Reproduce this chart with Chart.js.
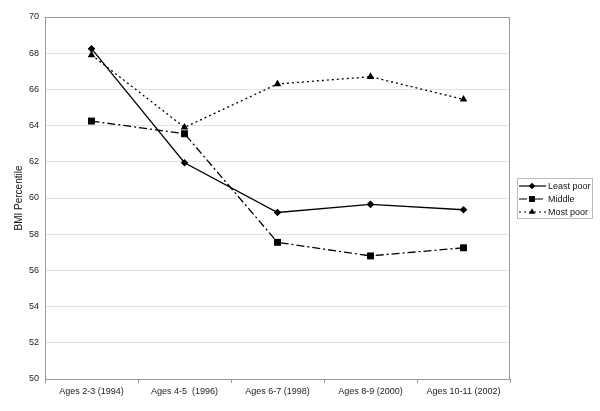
<!DOCTYPE html>
<html><head><meta charset="utf-8">
<script src="https://cdn.jsdelivr.net/npm/chart.js@4/dist/chart.umd.min.js"></script>
<style>html,body{margin:0;padding:0;background:#fff}#wrap{width:600px;height:411px}</style>
</head><body><div id="wrap"><canvas id="c" width="600" height="411"></canvas></div>
<script>
const categories = ['Ages 2-3 (1994)', 'Ages 4-5  (1996)', 'Ages 6-7 (1998)', 'Ages 8-9 (2000)', 'Ages 10-11 (2002)'];
const leastPoor = [68.25, 61.95, 59.2, 59.65, 59.35];
const middle = [64.25, 63.55, 57.55, 56.8, 57.25];
const mostPoor = [67.9, 63.9, 66.3, 66.7, 65.45];
const seriesNames = ['Least poor', 'Middle', 'Most poor'];
const yMin = 50, yMax = 70, yStep = 2;
const yTitle = 'BMI Percentile';

const FONT = 'Liberation Sans, Arial, sans-serif';
const styles = [
  {dash: [], point: 'rectRot', r: 3.8},
  {dash: [8, 3, 2, 3], point: 'rect', r: 4.9},
  {dash: [2, 3], point: 'triangle', r: 4.4}
];
const seriesData = [leastPoor, middle, mostPoor];

function drawMarker(ctx, style, x, y, r) {
  ctx.beginPath();
  if (style === 'rectRot') {
    ctx.moveTo(x, y - r); ctx.lineTo(x + r, y); ctx.lineTo(x, y + r); ctx.lineTo(x - r, y);
  } else if (style === 'rect') {
    const s = r * Math.SQRT1_2;
    ctx.rect(x - s, y - s, 2 * s, 2 * s);
  } else {
    ctx.moveTo(x, y - r); ctx.lineTo(x + r * 0.866, y + r * 0.5); ctx.lineTo(x - r * 0.866, y + r * 0.5);
  }
  ctx.closePath();
  ctx.fill();
}

const frameAndLegend = {
  id: 'frameAndLegend',
  afterDraw(chart) {
    const ctx = chart.ctx, a = chart.chartArea;
    ctx.save();
    ctx.strokeStyle = '#999'; ctx.lineWidth = 1;
    ctx.beginPath();
    ctx.moveTo(a.left, a.top + 0.5); ctx.lineTo(a.right - 0.5, a.top + 0.5); ctx.lineTo(a.right - 0.5, a.bottom);
    ctx.stroke();
    // legend
    const bx = 517.5, by = 178.5, bw = 75, bh = 40;
    ctx.strokeStyle = '#bbb';
    ctx.strokeRect(bx, by, bw, bh);
    ctx.font = '9px ' + FONT;
    ctx.textBaseline = 'middle';
    ctx.textAlign = 'left';
    seriesNames.forEach((n, i) => {
      const y = 186 + i * 13;
      ctx.strokeStyle = '#000'; ctx.fillStyle = '#000'; ctx.lineWidth = 1.2;
      ctx.setLineDash(styles[i].dash);
      ctx.beginPath(); ctx.moveTo(519, y); ctx.lineTo(546, y); ctx.stroke();
      ctx.setLineDash([]);
      drawMarker(ctx, styles[i].point, 532, y, styles[i].r * 0.85);
      ctx.fillStyle = '#111';
      ctx.fillText(n, 548, y + 0.5);
    });
    ctx.restore();
  }
};

new Chart(document.getElementById('c'), {
  type: 'line',
  data: {
    labels: categories,
    datasets: seriesData.map((d, i) => ({
      label: seriesNames[i],
      data: d,
      borderColor: '#000',
      backgroundColor: '#000',
      borderWidth: 1.3,
      borderDash: styles[i].dash,
      pointStyle: styles[i].point,
      pointRadius: styles[i].r,
      pointBorderWidth: 0,
      pointBackgroundColor: '#000',
      tension: 0,
      fill: false
    }))
  },
  options: {
    responsive: false,
    animation: false,
    devicePixelRatio: 1,
    layout: {padding: {top: 17, right: 90, left: 0, bottom: 0}},
    plugins: {legend: {display: false}, tooltip: {enabled: false}},
    scales: {
      x: {
        offset: true,
        afterFit: s => { s.height = 32; },
        grid: {offset: true, drawOnChartArea: false, drawTicks: true, tickLength: 4, color: '#999'},
        border: {color: '#999', width: 1},
        ticks: {color: '#222', font: {family: FONT, size: 9}, padding: 3, maxRotation: 0, autoSkip: false}
      },
      y: {
        min: yMin, max: yMax,
        afterFit: s => { s.width = 45; },
        grid: {color: '#e2e2e2', drawTicks: false},
        border: {color: '#999', width: 1},
        ticks: {stepSize: yStep, color: '#222', font: {family: FONT, size: 9}, padding: 6},
        title: {display: true, text: yTitle, color: '#111', font: {family: FONT, size: 10}, padding: {top: 13, bottom: 0}}
      }
    }
  },
  plugins: [frameAndLegend]
});
</script></body></html>
